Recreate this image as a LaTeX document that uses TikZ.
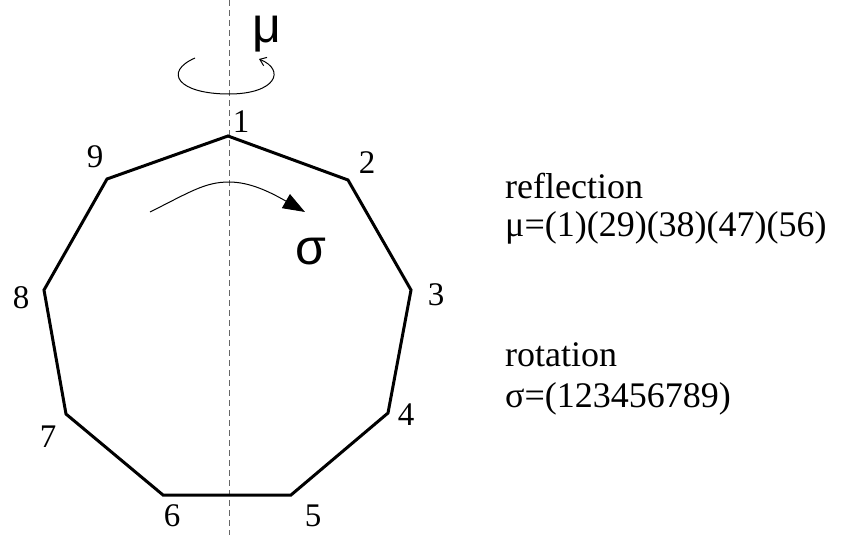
\documentclass[tikz,border=0pt]{standalone}
\usepackage{fontspec}
\setmainfont{Liberation Serif}
\newfontfamily\grk{Liberation Sans}
\usetikzlibrary{arrows.meta}
\begin{document}
\begin{tikzpicture}[x=1pt,y=-1pt,
  lbl/.style={font=\fontsize{33}{38}\selectfont, inner sep=0pt},
  txt/.style={font=\fontsize{36}{40}\selectfont, inner sep=0pt, anchor=west},
  big/.style={font=\grk\fontsize{50}{56}\selectfont, inner sep=0pt},
  edge/.style={line width=3pt, line join=miter},
  axis/.style={gray!80!black, dash pattern=on 6pt off 4pt, line width=1pt}]
\useasboundingbox (0,0) rectangle (842,535);
\coordinate (v1) at (228,136);
\coordinate (v2) at (348,180);
\coordinate (v3) at (411,290);
\coordinate (v4) at (388,413);
\coordinate (v5) at (291,495);
\coordinate (v6) at (163,495);
\coordinate (v7) at (66,414);
\coordinate (v8) at (44,290);
\coordinate (v9) at (107,179);
\coordinate (atop) at (229,0);
\coordinate (abot) at (229,535);
\draw[axis] (atop) -- (abot);
\draw[edge] (v1) -- (v2) -- (v3) -- (v4) -- (v5) -- (v6) -- (v7) -- (v8) -- (v9) -- cycle;
\node[lbl] (l1) at (241,122) {1};
\node[lbl] (l2) at (367,163) {2};
\node[lbl] (l3) at (436,295) {3};
\node[lbl] (l4) at (406,415) {4};
\node[lbl] (l5) at (313,516) {5};
\node[lbl] (l6) at (172,516) {6};
\node[lbl] (l7) at (48,437) {7};
\node[lbl] (l8) at (21,298) {8};
\node[lbl] (l9) at (95,157) {9};
\node[big] (mu) at (267,34) {μ};
\node[big] (sigma) at (311,252) {σ};
% mu rotation arrow
\coordinate (ms) at (195,58);
\coordinate (me) at (259,59);
\draw[line width=1pt, -{Straight Barb[length=6pt,width=9pt]}] (ms) .. controls (163,72) and (178,94) .. (229,94) .. controls (276,94) and (286,70) .. (me);
% sigma rotation arrow
\coordinate (ss) at (150,212);
\coordinate (se) at (305,212);
\draw[line width=1pt, -{Triangle[length=22pt,width=16pt]}] (ss) .. controls (190,192) and (205,182) .. (229,182) .. controls (250,182) and (270,192) .. (se);
\node[txt] (t1) at (505,186) {reflection};
\node[txt] (t2) at (505,228) {μ=(1)(29)(38)(47)(56)};
\node[txt] (t3) at (505,355) {rotation};
\node[txt] (t4) at (505,399) {σ=(123456789)};
\end{tikzpicture}
\end{document}
